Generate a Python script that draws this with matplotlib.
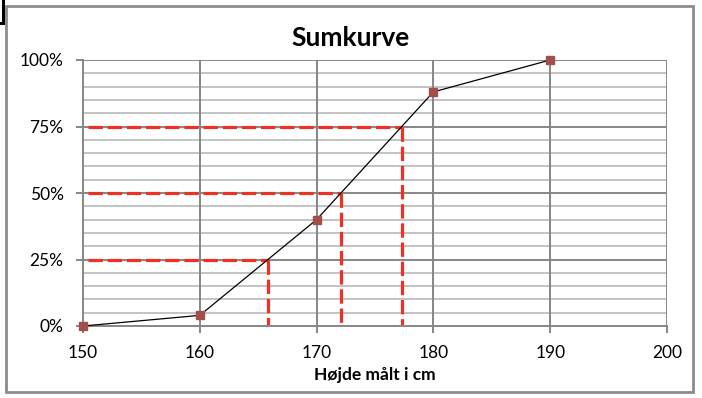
import matplotlib.pyplot as plt
from matplotlib.patches import Rectangle

# data
hoejde = [150, 160, 170, 180, 190]
sum_pct = [0, 4, 40, 88, 100]
kvartil_pct = [25, 50, 75]
kvartil_x = [165.8, 172.1, 177.3]

plt.rcParams['font.family'] = ['Lato', 'DejaVu Sans']

grid_dark = '#868686'
grid_light = '#b9b9b9'
rod = '#ee3124'

fig = plt.figure(figsize=(7.02, 3.98), dpi=100)
ax = fig.add_axes([83/702, 1-326/398, (667-83)/702, (326-60)/398])

ax.set_xlim(150, 200)
ax.set_ylim(0, 100)

# grid
for y in range(5, 100, 5):
    if y % 25:
        ax.axhline(y, color=grid_light, lw=1.2, zorder=1)
for y in (25, 50, 75, 100):
    ax.axhline(y, color=grid_dark, lw=1.4, zorder=1)
for x in range(160, 201, 10):
    ax.axvline(x, color=grid_dark, lw=1.4, zorder=1)

# kvartil-linjer
for q, xq in zip(kvartil_pct, kvartil_x):
    ax.plot([150.4, xq], [q, q], color=rod, lw=2.3, ls=(0, (4.5, 1.5)), zorder=2)
    ax.plot([xq, xq], [q, 0], color=rod, lw=2.3, ls=(0, (4.5, 1.5)), zorder=2)

ax.plot(hoejde, sum_pct, color='black', lw=0.9, marker='s', ms=6,
        mfc='#a24f4c', mec='#a24f4c', zorder=3, clip_on=False)

for side in ('top', 'right'):
    ax.spines[side].set_visible(False)
for side in ('left', 'bottom'):
    ax.spines[side].set_color(grid_dark)
    ax.spines[side].set_linewidth(1.4)

ax.set_xticks(range(150, 201, 10))
ax.set_yticks([0, 25, 50, 75, 100])
ax.set_yticklabels(['0%', '25%', '50%', '75%', '100%'])
ax.tick_params(axis='both', direction='out', length=5, width=1.4, color=grid_dark,
               labelsize=12.5)
ax.tick_params(axis='y', pad=9)
ax.tick_params(axis='x', pad=9)

ax.set_xlabel('Højde målt i cm', fontsize=12.5, fontweight='bold', labelpad=4)
fig.text(0.5, 1-38/398, 'Sumkurve', ha='center', va='center', fontsize=19, fontweight='bold')

# ramme
fig.patches.append(Rectangle((6/702, 1-392/398), (693-6)/702, (392-6)/398,
                             transform=fig.transFigure, fill=False,
                             edgecolor='#8c8c8c', lw=2))
fig.patches.append(Rectangle((2/702, 1-25/398), 3/702, 25/398,
                             transform=fig.transFigure, color='black', lw=0))
fig.patches.append(Rectangle((0, 1-25/398), 5/702, 3/398,
                             transform=fig.transFigure, color='black', lw=0))

fig.savefig('out.png', dpi=100)
